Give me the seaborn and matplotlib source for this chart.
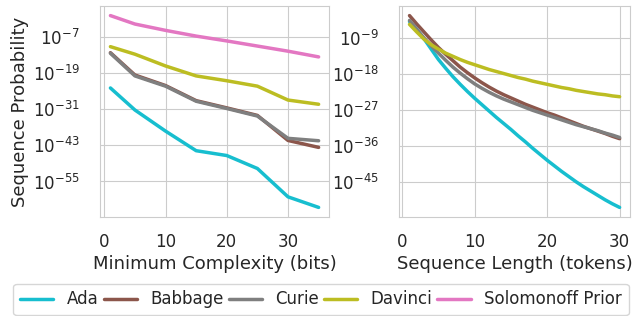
import numpy as np
import pandas as pd
import seaborn as sns
from matplotlib import pyplot as plt

# Nombres de modelos y colores
modelos = ["Ada", "Babbage", "Curie", "Davinci", "Solomonoff Prior"]
colores = ["#17becf", "#8c564b", "#7f7f7f", "#bcbd22", "#e377c2"]

# Panel izquierdo: log10 de la probabilidad vs complejidad mínima
complejidad = [1, 5, 10, 15, 20, 25, 30, 35]
izq_ada = [-24.0, -31.3, -38.3, -44.8, -46.4, -50.7, -60.1, -63.6]
izq_babbage = [-12.3, -19.7, -23.2, -28.2, -30.6, -33.1, -41.4, -43.7]
izq_curie = [-12.5, -20.0, -23.4, -28.4, -30.8, -33.3, -40.7, -41.5]
izq_davinci = [-10.3, -12.8, -16.7, -20.0, -21.6, -23.4, -28.0, -29.4]
izq_solomonoff = [0.0, -2.8, -4.9, -6.8, -8.4, -10.1, -11.8, -13.7]

# Panel derecho: log10 de la probabilidad vs longitud de secuencia
longitud = list(range(1, 31))
der_ada = [-4.9, -6.8, -9.2, -11.8, -14.4, -16.6, -18.7, -20.6, -22.4, -24.1,
           -25.7, -27.3, -28.9, -30.4, -31.9, -33.5, -35.0, -36.6, -38.1, -39.6,
           -41.0, -42.4, -43.7, -45.0, -46.2, -47.3, -48.4, -49.5, -50.5, -51.4]
der_babbage = [-3.4, -5.5, -7.5, -9.5, -11.4, -13.1, -14.7, -16.3, -17.7, -19.0,
               -20.2, -21.3, -22.3, -23.2, -24.0, -24.8, -25.6, -26.3, -27.0, -27.7,
               -28.3, -29.0, -29.7, -30.4, -31.1, -31.7, -32.3, -32.9, -33.6, -34.2]
der_curie = [-4.6, -6.9, -9.0, -11.0, -12.8, -14.6, -16.3, -17.8, -19.2, -20.5,
             -21.6, -22.6, -23.5, -24.3, -25.0, -25.7, -26.4, -27.1, -27.7, -28.3,
             -28.9, -29.5, -30.1, -30.7, -31.2, -31.7, -32.2, -32.8, -33.3, -33.9]
der_davinci = [-5.6, -7.5, -9.3, -10.7, -11.8, -12.8, -13.6, -14.4, -15.1, -15.7,
               -16.3, -16.9, -17.4, -17.9, -18.4, -18.9, -19.3, -19.8, -20.2, -20.6,
               -21.0, -21.4, -21.7, -22.1, -22.4, -22.7, -23.0, -23.2, -23.5, -23.7]

ticks_izq = [-55, -43, -31, -19, -7]
ticks_der = [-45, -36, -27, -18, -9]


def armar_df(x, series, nombres):
    """Convierte las series en formato largo para seaborn."""
    filas = []
    for nombre, valores in zip(nombres, series):
        for xi, v in zip(x, valores):
            filas.append({"x": xi, "p": 10.0 ** v, "Modelo": nombre})
    return pd.DataFrame(filas)


df_izq = armar_df(complejidad, [izq_ada, izq_babbage, izq_curie, izq_davinci, izq_solomonoff], modelos)
df_der = armar_df(longitud, [der_ada, der_babbage, der_curie, der_davinci], modelos[:4])

sns.set_style("whitegrid")
plt.rcParams["font.family"] = ["DejaVu Sans"]
paleta = dict(zip(modelos, colores))

fig = plt.figure(figsize=(6.42, 3.16), dpi=100)
ax1 = fig.add_axes([0.1558, 0.3133, 0.3567, 0.6677])
ax2 = fig.add_axes([0.6215, 0.3133, 0.3600, 0.6677])

sns.lineplot(data=df_izq, x="x", y="p", hue="Modelo", palette=paleta, linewidth=2.5, ax=ax1)
sns.lineplot(data=df_der, x="x", y="p", hue="Modelo", palette=paleta, linewidth=2.5, ax=ax2)

for ax, ticks in [(ax1, ticks_izq), (ax2, ticks_der)]:
    ax.set_yscale("log")
    ax.set_yticks([10.0 ** t for t in ticks])
    ax.minorticks_off()
    ax.tick_params(axis="x", labelsize=12, pad=8)
    ax.tick_params(axis="y", labelsize=12, pad=11)
    ax.get_legend().remove()

ax1.set_xticks([0, 10, 20, 30])
ax2.set_xticks([0, 10, 20, 30])
ax1.set_xlabel("Minimum Complexity (bits)", fontsize=13, labelpad=3)
ax2.set_xlabel("Sequence Length (tokens)", fontsize=13, labelpad=3)
ax1.set_ylabel("Sequence Probability", fontsize=13, labelpad=3)
ax2.set_ylabel("")

handles, labels = ax1.get_legend_handles_labels()
fig.legend(handles, labels, loc="lower center", ncol=5, bbox_to_anchor=(0.5, 0.003),
           borderaxespad=0, fontsize=12, frameon=True, columnspacing=0.3, handletextpad=0.8)

fig.savefig("out.png", dpi=100)
